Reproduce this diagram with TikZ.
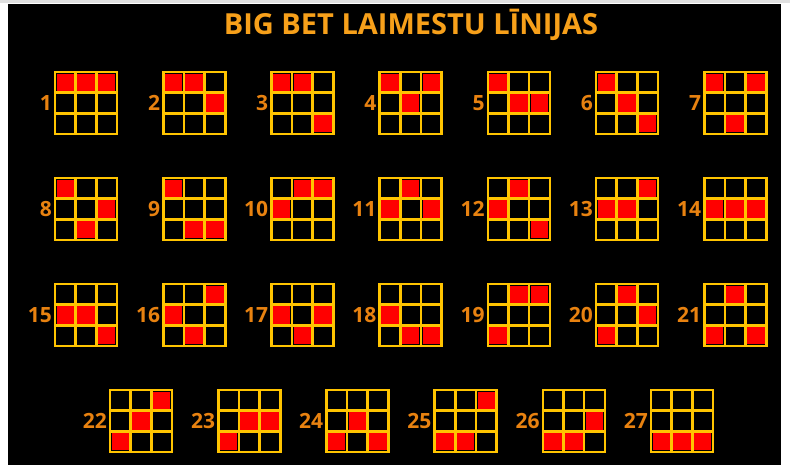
\documentclass[tikz,border=0pt]{standalone}
\usepackage{fontspec}
\setsansfont{Open Sans}
\usetikzlibrary{positioning}
\definecolor{gold}{RGB}{255,196,0}
\definecolor{cellred}{RGB}{255,0,0}
\definecolor{lblorange}{RGB}{232,130,16}
\definecolor{titleorange}{RGB}{247,160,26}

\begin{document}
\begin{tikzpicture}[x=1pt,y=-1pt,
  frame/.style={draw=gold,line width=2.6pt,minimum size=62pt,inner sep=0pt,outer sep=0pt},
  gridline/.style={draw=gold,line width=2.6pt},
  lbl/.style={text=lblorange,font=\sffamily\bfseries\fontsize{21}{21}\selectfont,inner sep=0pt},
  titletext/.style={text=titleorange,font=\sffamily\bfseries\fontsize{29}{29}\selectfont,inner sep=0pt}]
\useasboundingbox (0,0) rectangle (790,465);
\fill[white] (0,0) rectangle (790,465);
\fill[black!12] (0,0) rectangle (790,3);
\fill[black] (8,4) rectangle (781,465);
% title
\node[titletext] (title) at (411,25) {BIG BET LAIMESTU LĪNIJAS};
% the 27 lines, 7 per row, last row shifted
\foreach \n in {1,...,27}{
  \pgfmathsetmacro{\gx}{\n<22 ? 55+108.2*mod(\n-1,7) : 110+108.2*(\n-22)}
  \pgfmathsetmacro{\gy}{\n<22 ? 72+106*int((\n-1)/7) : 390}
  \pgfmathtruncatemacro{\da}{int((\n-1)/9)}
  \pgfmathtruncatemacro{\db}{mod(int((\n-1)/3),3)}
  \pgfmathtruncatemacro{\dc}{mod(\n-1,3)}
  \node[frame] (g\n) at (\gx+31,\gy+31) {};
  \node[lbl,left=3pt of g\n] (n\n) {\n};
  \begin{scope}[shift={(g\n.north west)}]
    \foreach \c/\d in {0/\da,1/\db,2/\dc}
      \fill[cellred] (\c*62/3+1.6,\d*62/3+1.6) rectangle ++(62/3-3.2,62/3-3.2);
    \draw[gridline] (62/3,0) -- (62/3,62) (124/3,0) -- (124/3,62)
      (0,62/3) -- (62,62/3) (0,124/3) -- (62,124/3);
  \end{scope}
}
\end{tikzpicture}
\end{document}
